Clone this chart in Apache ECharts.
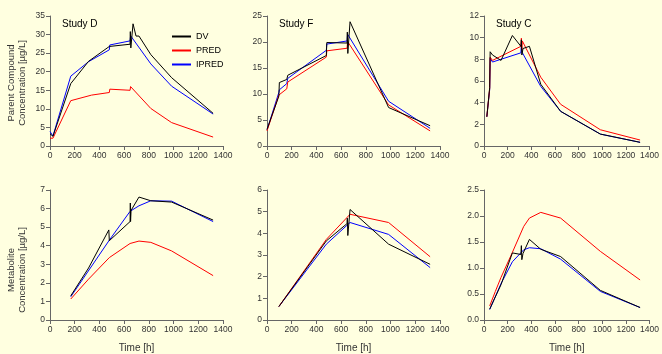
<!DOCTYPE html>
<html><head><meta charset="utf-8">
<script src="https://cdn.jsdelivr.net/npm/echarts@6/dist/echarts.min.js"></script>
<style>html,body{margin:0;padding:0;background:#FFFFE0;}#c{width:662px;height:354px;}</style>
</head><body><div id="c"></div>
<script>
// ---- Data: [time (h), concentration] ----
const studyNames = ['Study D', 'Study F', 'Study C'];
const seriesNames = ['DV', 'PRED', 'IPRED'];
// Parent compound
const parentD_DV = [[0,3.3],[24,2.6],[168,16.8],[312,22.8],[480,26.8],[484,27.0],[648,27.4],[650,30.8],[654,26.4],[672,32.9],[696,29.6],[720,29.6],[816,24.6],[984,18.4],[1320,8.8]];
const parentD_PRED = [[0,2.1],[24,2.1],[168,12.2],[336,13.7],[480,14.4],[484,15.3],[648,15.0],[652,16.0],[816,10.1],[984,6.3],[1320,2.4]];
const parentD_IPRED = [[0,3.9],[24,2.7],[168,18.8],[312,22.7],[480,25.9],[484,27.2],[648,28.3],[652,29.7],[816,22.1],[984,16.1],[1320,8.6]];
const parentF_DV = [[0,3.2],[96,9.6],[100,12.2],[160,12.8],[168,13.6],[480,17.4],[484,19.9],[648,19.8],[650,21.9],[654,17.8],[672,23.9],[984,7.4],[1320,3.9]];
const parentF_PRED = [[0,2.9],[96,9.8],[160,11.0],[168,12.3],[480,17.1],[484,18.3],[648,18.8],[652,20.1],[984,7.9],[1320,2.9]];
const parentF_IPRED = [[0,3.1],[96,10.3],[100,10.8],[160,12.0],[168,13.0],[480,18.4],[484,19.6],[648,20.2],[652,21.5],[984,8.6],[1320,3.4]];
const parentC_DV = [[24,2.7],[48,5.4],[52,8.7],[72,8.4],[144,7.9],[240,10.2],[312,9.2],[316,9.8],[320,8.4],[330,9.0],[384,9.2],[480,5.7],[648,3.2],[984,1.1],[1320,0.34]];
const parentC_PRED = [[24,2.7],[48,5.3],[52,8.2],[72,7.9],[312,9.2],[316,9.95],[320,8.9],[324,9.7],[480,6.35],[648,3.85],[984,1.5],[1320,0.55]];
const parentC_IPRED = [[24,2.7],[48,5.2],[52,8.1],[72,7.75],[312,8.6],[316,9.4],[320,8.7],[480,5.5],[648,3.2],[984,1.1],[1320,0.34]];
// Metabolite
const metabD_DV = [[168,1.3],[312,2.8],[476,4.85],[480,4.27],[648,5.3],[650,6.3],[652,5.3],[656,5.9],[720,6.62],[816,6.42],[984,6.35],[1320,5.38]];
const metabD_PRED = [[168,1.13],[312,2.2],[480,3.36],[648,4.12],[720,4.25],[816,4.18],[984,3.72],[1320,2.39]];
const metabD_IPRED = [[168,1.25],[480,4.3],[648,5.85],[720,6.15],[816,6.42],[984,6.4],[1320,5.3]];
const metabF_DV = [[96,0.62],[480,3.65],[648,4.45],[650,4.7],[654,3.9],[672,5.1],[984,3.5],[1320,2.57]];
const metabF_PRED = [[96,0.62],[480,3.72],[672,4.88],[984,4.5],[1320,2.92]];
const metabF_IPRED = [[96,0.62],[480,3.5],[672,4.5],[984,3.95],[1320,2.42]];
const metabC_DV = [[48,0.21],[144,0.68],[240,1.29],[312,1.26],[316,1.43],[320,1.16],[330,1.28],[384,1.55],[480,1.36],[648,1.22],[984,0.57],[1320,0.24]];
const metabC_PRED = [[48,0.27],[96,0.55],[144,0.82],[240,1.3],[336,1.8],[384,1.96],[480,2.07],[648,1.96],[984,1.32],[1320,0.77]];
const metabC_IPRED = [[48,0.2],[96,0.45],[144,0.7],[240,1.12],[336,1.35],[384,1.39],[480,1.37],[648,1.17],[984,0.55],[1320,0.24]];
// Axis ranges
const xMax = 1400, xStep = 200;
const yMaxTop = [35, 25, 12], yStepTop = [5, 5, 2];
const yMaxBot = [7, 6, 2.5], yStepBot = [1, 1, 0.5];

const panels = [
  [parentD_DV, parentD_PRED, parentD_IPRED],
  [parentF_DV, parentF_PRED, parentF_IPRED],
  [parentC_DV, parentC_PRED, parentC_IPRED],
  [metabD_DV, metabD_PRED, metabD_IPRED],
  [metabF_DV, metabF_PRED, metabF_IPRED],
  [metabC_DV, metabC_PRED, metabC_IPRED]
];
const colors = ['#000000', '#FF0000', '#0000FF'];
const lefts = [50, 267, 484];
const FONT = 'Liberation Sans, Arial, sans-serif';
const axisCol = '#666666';

const grids = [], xAxes = [], yAxes = [], series = [], titles = [];
for (let i = 0; i < 6; i++) {
  const col = i % 3, row = Math.floor(i / 3);
  grids.push({left: lefts[col], top: row === 0 ? 16 : 190, width: 173, height: 130});
  xAxes.push({
    type: 'value', gridIndex: i, min: 0, max: xMax, interval: xStep,
    name: row === 1 ? 'Time [h]' : '', nameLocation: 'middle', nameGap: 23,
    nameTextStyle: {fontFamily: FONT, fontSize: 10, color: '#333'},
    axisLine: {show: true, lineStyle: {color: axisCol, width: 1}},
    axisTick: {show: true, length: 4, lineStyle: {color: axisCol}},
    axisLabel: {fontFamily: FONT, fontSize: 8.5, color: '#333', margin: 5, showMaxLabel: true,
      formatter: v => String(v)},
    splitLine: {show: false}
  });
  const yMax = row === 0 ? yMaxTop[col] : yMaxBot[col];
  const yStep = row === 0 ? yStepTop[col] : yStepBot[col];
  yAxes.push({
    type: 'value', gridIndex: i, min: 0, max: yMax, interval: yStep,
    axisLine: {show: true, lineStyle: {color: axisCol, width: 1}},
    axisTick: {show: true, length: 4, lineStyle: {color: axisCol}},
    axisLabel: {fontFamily: FONT, fontSize: 8.5, color: '#333', margin: 5,
      formatter: v => (yStep < 1 ? v.toFixed(1) : String(v))},
    splitLine: {show: false}
  });
  panels[i].forEach((d, k) => {
    series.push({
      type: 'line', name: seriesNames[k], xAxisIndex: i, yAxisIndex: i, data: d,
      showSymbol: false, symbol: 'none', lineStyle: {color: colors[k], width: 1},
      itemStyle: {color: colors[k]}, z: 3 - k, animation: false
    });
  });
  if (row === 0) {
    titles.push({text: studyNames[col], left: lefts[col] + 7, top: 14,
      textStyle: {fontFamily: FONT, fontSize: 10, fontWeight: 'normal', color: '#000'}});
  }
}

const chart = echarts.init(document.getElementById('c'), null, {renderer: 'canvas'});
chart.setOption({
  backgroundColor: '#FFFFE0',
  animation: false,
  title: titles,
  grid: grids, xAxis: xAxes, yAxis: yAxes, series: series,
  legend: {
    data: seriesNames, orient: 'vertical', left: 167, top: 27, itemGap: 5,
    itemWidth: 19, itemHeight: 2, icon: 'rect',
    textStyle: {fontFamily: FONT, fontSize: 9, color: '#000', padding: [0, 0, 0, 0]}
  },
  graphic: [
    {type: 'text', x: 17, y: 83, rotation: Math.PI / 2,
      style: {text: 'Parent Compound\nConcentration [µg/L]', fontFamily: FONT, fontSize: 9.5,
        fill: '#333', align: 'center', verticalAlign: 'middle', lineHeight: 11}},
    {type: 'text', x: 17, y: 270, rotation: Math.PI / 2,
      style: {text: 'Metabolite\nConcentration [µg/L]', fontFamily: FONT, fontSize: 9.5,
        fill: '#333', align: 'center', verticalAlign: 'middle', lineHeight: 11}}
  ]
});
</script></body></html>
